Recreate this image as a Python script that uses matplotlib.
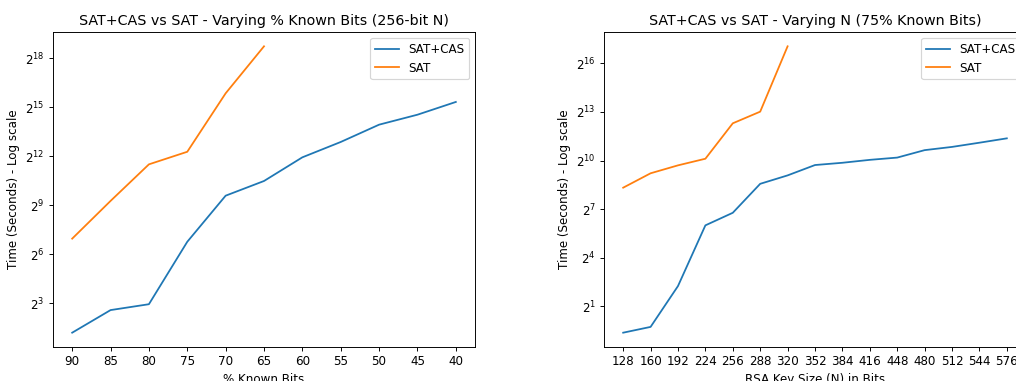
import matplotlib
matplotlib.use("Agg")
import matplotlib.pyplot as plt
from matplotlib.ticker import LogFormatterSciNotation, NullLocator, FixedLocator

# Left chart: varying % known bits (256-bit N)
known_bits = [90, 85, 80, 75, 70, 65, 60, 55, 50, 45, 40]
sat_cas_known = [2.3, 6.0, 7.7, 109, 771, 1438, 3929, 7536, 15710, 23980, 41200]
sat_known = [124.5, 617, 2916, 4973, 59450, 437000]

# Right chart: varying N (75% known bits)
key_sizes = [128, 160, 192, 224, 256, 288, 320, 352, 384, 416, 448, 480, 512, 544, 576]
sat_cas_n = [0.64, 0.82, 4.72, 63.6, 109, 377, 541, 843, 929, 1053, 1160, 1596, 1833, 2195, 2646]
sat_n = [319.6, 592, 832, 1105, 5042, 8305, 136500]

left_yticks_exp = [3, 6, 9, 12, 15, 18]
right_yticks_exp = [1, 4, 7, 10, 13, 16]

W, H = 1017, 381
DPI = 85.4
fig = plt.figure(figsize=(W / DPI, H / DPI), dpi=DPI)

ax1 = fig.add_axes([53 / W, (H - 347) / H, 422 / W, 315 / H])
ax2 = fig.add_axes([604 / W, (H - 347) / H, 422 / W, 315 / H])

ax1.plot(known_bits, sat_cas_known, label="SAT+CAS")
ax1.plot(known_bits[:len(sat_known)], sat_known, label="SAT")
ax1.set_yscale("log", base=2)
ax1.set_xticks(known_bits)
ax1.invert_xaxis()
ax1.yaxis.set_major_locator(FixedLocator([2.0 ** e for e in left_yticks_exp]))
ax1.yaxis.set_major_formatter(LogFormatterSciNotation(base=2))
ax1.yaxis.set_minor_locator(NullLocator())
ax1.set_title("SAT+CAS vs SAT - Varying % Known Bits (256-bit N)")
ax1.set_xlabel("% Known Bits")
ax1.set_ylabel("Time (Seconds) - Log scale")
ax1.legend(loc="upper right")

ax2.plot(key_sizes, sat_cas_n, label="SAT+CAS")
ax2.plot(key_sizes[:len(sat_n)], sat_n, label="SAT")
ax2.set_yscale("log", base=2)
ax2.set_xticks(key_sizes)
ax2.yaxis.set_major_locator(FixedLocator([2.0 ** e for e in right_yticks_exp]))
ax2.yaxis.set_major_formatter(LogFormatterSciNotation(base=2))
ax2.yaxis.set_minor_locator(NullLocator())
ax2.set_title("SAT+CAS vs SAT - Varying N (75% Known Bits)")
ax2.set_xlabel("RSA Key Size (N) in Bits")
ax2.set_ylabel("Time (Seconds) - Log scale")
ax2.legend(loc="upper right")

fig.savefig("out.png", dpi=DPI)
